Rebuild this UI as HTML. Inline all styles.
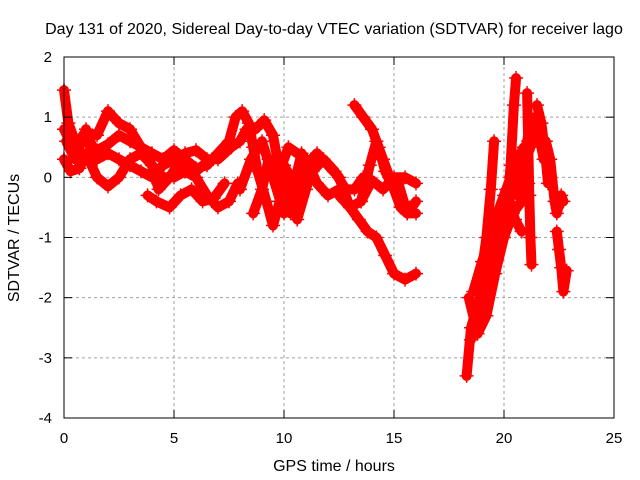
<!DOCTYPE html>
<html><head><meta charset="utf-8"><style>
html,body{margin:0;padding:0;background:#fff}
svg{display:block;font-family:"Liberation Sans",sans-serif}
</style></head><body>
<svg id="chart" width="640" height="480" viewBox="0 0 640 480">
<rect width="640" height="480" fill="#fff"/>
<text x="334" y="34" font-size="16" text-anchor="middle">Day 131 of 2020, Sidereal Day-to-day VTEC variation (SDTVAR) for receiver lago</text>
<text x="334" y="471" font-size="16" text-anchor="middle">GPS time / hours</text>
<text transform="translate(19,238) rotate(-90)" font-size="16" text-anchor="middle">SDTVAR / TECUs</text>
<g id="grid"></g>
<g id="series"></g>
<rect x="64" y="57" width="550" height="361" fill="none" stroke="#000" stroke-width="1"/>
<g id="ticks"></g>
</svg>
<script>
const xTicks=[0,5,10,15,20,25];
const yTicks=[-4,-3,-2,-1,0,1,2];
const seriesA=[[0,1.45],[0.2,0.9],[0.5,0.6],[1,0.6],[1.5,0.45],[2,0.55],[2.5,0.7],[3,0.6],[3.5,0.5],[4,0.4],[4.5,0.3],[5,0.45],[5.5,0.3],[6,0.15],[6.5,0.2],[7,0.4],[7.5,0.6],[7.8,1.0],[8.1,1.1],[8.4,0.9],[8.6,0.5],[8.8,0.1],[9.2,-0.4],[9.5,-0.8],[9.8,-0.4],[10,0.2],[10.3,0.0],[10.6,-0.7],[11,-0.2],[11.4,0.3]];
const seriesB=[[0,0.3],[0.3,0.1],[0.7,0.15],[1,0.4],[1.5,0.0],[2,-0.15],[2.5,0.0],[3,0.3],[3.5,0.4],[4,0.2],[4.5,0.0],[5,0.0],[5.5,0.1],[6,0.0],[6.5,-0.3],[7,-0.5],[7.5,-0.4],[7.9,-0.1]];
const seriesC=[[3.8,-0.3],[4.2,-0.4],[4.8,-0.5],[5.3,-0.3],[5.8,-0.2],[6.3,-0.4],[6.8,-0.35],[7.3,-0.1]];
const seriesD=[[0,0.8],[0.4,0.5],[1,0.75],[1.5,0.7],[2,1.1],[2.5,0.9],[3,0.8],[3.5,0.5],[4,0.2],[4.3,-0.2],[4.8,0.0],[5.5,0.4],[6,0.45],[6.5,0.3],[7,0.3],[7.6,0.5],[8,0.6],[8.3,0.8]];
const seriesE=[[8.7,0.8],[9.1,0.95],[9.5,0.7],[9.7,0.3],[10,-0.3],[10.3,-0.6],[10.6,-0.3],[11,0.2],[11.5,0.4],[12,0.2],[12.5,0.0],[13,-0.5],[13.5,-0.4],[14,-0.05],[14.5,-0.2],[15,0.0],[15.5,0.0],[16,-0.1]];
const seriesF=[[13.2,1.2],[13.6,1.0],[14,0.8],[14.3,0.5],[14.6,0.1],[15,-0.2],[15.3,-0.5],[15.6,-0.6],[16,-0.6]];
const seriesG=[[12.5,-0.3],[13,-0.5],[13.4,-0.7],[13.8,-0.9],[14.2,-1.0],[14.6,-1.3],[15,-1.6],[15.5,-1.7],[16,-1.6]];
const seriesH=[[13.5,-0.4],[13.9,0.2],[14.2,0.6],[14.5,0.3],[14.8,0.0],[15.2,-0.1],[15.6,-0.6],[16,-0.4]];
const seriesI=[[8,-0.2],[8.5,0.3],[9,0.6],[9.5,0.0],[10,-0.6],[10.4,-0.2],[10.8,0.4],[11.3,0.1],[11.8,0.3],[12.3,0.1],[12.8,-0.2],[13.2,-0.2],[13.6,0.0]];
const seriesJ=[[8.6,-0.6],[9,-0.2],[9.3,0.3],[9.7,0.0],[10.2,0.5],[11,0.3],[11.5,-0.1],[12,-0.3],[12.5,-0.2]];
const seriesT=[[0.1,0.6],[0.5,0.3],[1,0.8],[1.5,0.3],[2,0.4],[2.5,0.3],[3,0.2],[3.5,0.1],[4,0.0],[4.5,0.2],[5,0.3],[5.5,0.1],[6,0.1],[6.5,0.25]];
const seriesK=[[18.3,-3.3],[18.5,-2.5],[18.9,-2.0],[19.3,-1.5],[19.7,-1.0],[20.1,-0.5],[20.5,-0.1],[20.9,0.2],[21.2,0.5],[21.4,0.8]];
const seriesL=[[18.4,-2.0],[18.8,-2.6],[19.2,-2.3],[19.6,-1.6],[20,-1.0],[20.4,-0.6],[20.8,-0.4],[21.1,-0.1]];
const seriesU=[[18.5,-2.7],[18.8,-2.2],[19.1,-1.7],[19.4,-1.2],[19.7,-0.7],[20,-0.3],[20.3,0.0],[20.6,0.3],[20.9,0.5]];
const seriesV=[[18.6,-1.9],[19,-1.4],[19.3,-1.1],[19.7,-0.6],[20.1,-0.2],[20.5,-0.7],[20.8,-0.9]];
const seriesM=[[18.9,-1.8],[19.2,-1.0],[19.4,-0.2],[19.55,0.6]];
const seriesN=[[20.1,-0.7],[20.3,0.2],[20.45,1.2],[20.55,1.65]];
const seriesO=[[21.05,1.4],[21.1,0.6],[21.15,-0.3],[21.2,-1.0],[21.25,-1.45]];
const seriesP=[[21.5,1.2],[21.7,0.9],[21.9,0.3],[22.0,-0.1],[22.1,0.0]];
const seriesQ=[[21.9,0.6],[22.1,0.3],[22.3,-0.4],[22.4,-0.6],[22.6,-0.3],[22.7,-0.4]];
const seriesR=[[22.4,-0.9],[22.5,-1.2],[22.6,-1.5],[22.7,-1.9],[22.85,-1.55]];
const seriesS=[[20.6,-0.3],[20.9,0.3],[21.2,0.9],[21.4,1.0],[21.6,0.7],[21.8,0.3]];
const allSeries=[seriesA,seriesB,seriesC,seriesD,seriesE,seriesF,seriesG,seriesH,seriesI,seriesJ,seriesT,seriesK,seriesL,seriesU,seriesV,seriesM,seriesN,seriesO,seriesP,seriesQ,seriesR,seriesS];

const X0=64,X1=614,Y0=418,Y1=57;
function sx(t){return X0+(t-0)/(25-0)*(X1-X0);}
function sy(v){return Y0-(v+4)/(2+4)*(Y0-Y1);}
const NS="http://www.w3.org/2000/svg";
const grid=document.getElementById('grid'),ticks=document.getElementById('ticks'),ser=document.getElementById('series');
function mk(tag,attrs,parent){const e=document.createElementNS(NS,tag);for(const k in attrs)e.setAttribute(k,attrs[k]);parent.appendChild(e);return e;}
xTicks.forEach(t=>{
  const x=sx(t);
  if(t>0&&t<25){const g=mk('line',{x1:x,y1:Y0,x2:x,y2:Y1,stroke:'#a0a0a0','stroke-dasharray':'3,3'},grid);
  
  }
  const a=mk('line',{x1:x,y1:Y0,x2:x,y2:Y0-8,stroke:'#000'},ticks);
  
  
  const b=mk('line',{x1:x,y1:Y1,x2:x,y2:Y1+8,stroke:'#000'},ticks);
  
  
  const l=mk('text',{x:x,y:443,'font-size':15,'text-anchor':'middle'},ticks);l.textContent=t;
  
  
});
yTicks.forEach(v=>{
  const y=sy(v);
  if(v>-4&&v<2){const g=mk('line',{x1:X0,y1:y,x2:X1,y2:y,stroke:'#a0a0a0','stroke-dasharray':'3,3'},grid);
  
  }
  const a=mk('line',{x1:X0,y1:y,x2:X0+8,y2:y,stroke:'#000'},ticks);
  
  
  const b=mk('line',{x1:X1,y1:y,x2:X1-8,y2:y,stroke:'#000'},ticks);
  
  
  const l=mk('text',{x:52,y:y+5,'font-size':15,'text-anchor':'end'},ticks);l.textContent=v;
  
  
});
allSeries.forEach((s,i)=>{
  const pts=s.map(p=>sx(p[0]).toFixed(1)+','+sy(p[1]).toFixed(1)).join(' ');
  const pl=mk('polyline',{points:pts,fill:'none',stroke:'#ff0000','stroke-width':10,'stroke-linejoin':'round','stroke-linecap':'round'},ser);
  
  
  s.forEach(p=>{
    const x=sx(p[0]),y=sy(p[1]);
    const m=mk('path',{d:`M${x-7},${y}h14M${x},${y-7}v14`,stroke:'#ff0000','stroke-width':1.5},ser);
    
    
  });
});
</script>
</body></html>
